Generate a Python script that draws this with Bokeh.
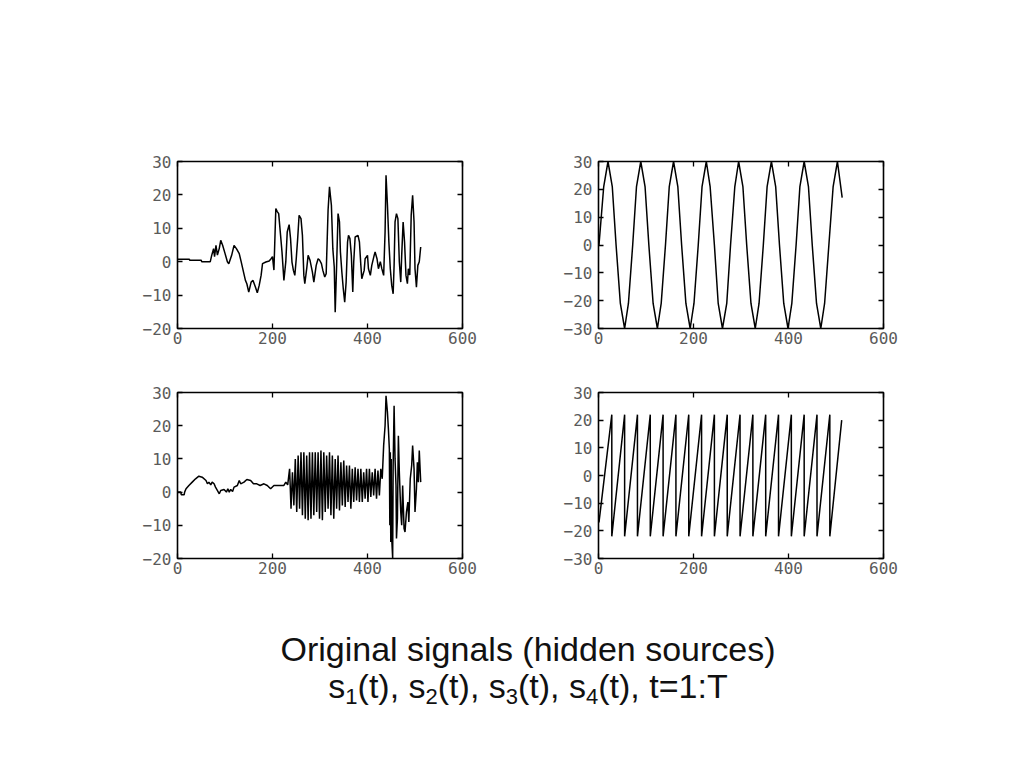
from bokeh.plotting import figure
from bokeh.models import Range1d, FixedTicker, LinearAxis, Spacer, Div
from bokeh.layouts import row, column
from bokeh.embed import file_html
from bokeh.resources import INLINE

# ---------------- data ----------------
x_ticks = [0, 200, 400, 600]

# s1(t): irregular signal (top-left)
s1_t = [1, 25, 26, 50, 51, 69, 72, 76, 78, 81, 84, 88, 91, 95, 100, 105, 108, 114, 119, 124,
        130, 134, 139, 143, 146, 150, 155, 159, 164, 168, 172, 176, 179, 186, 193, 197, 200, 203,
        207, 210, 213, 217, 220, 224, 228, 231, 235, 238, 241, 244, 247, 250, 253, 256, 260, 263,
        266, 268, 272, 275, 279, 284, 287, 292, 296, 299, 303, 306, 310, 313, 317, 320, 324, 327,
        330, 332, 335, 338, 341, 343, 346, 349, 352, 355, 358, 360, 363, 366, 369, 371, 374, 380,
        383, 386, 388, 393, 395, 400, 402, 406, 409, 414, 416, 420, 423, 427, 430, 434, 437, 439,
        442, 445, 448, 451, 454, 456, 458, 461, 464, 467, 470, 472, 475, 478, 481, 484, 486, 489,
        492, 495, 498, 500, 503, 506, 509, 512]
s1_v = [0.7, 0.7, 0.4, 0.4, 0, 0, 1.9, 3.9, 1.5, 4.9, 2.0, 4.0, 6.4, 4.9, 2.5, 0, -0.6, 1.9, 4.9, 3.9,
        2.4, 0, -3.1, -5.6, -6.6, -9.1, -6.1, -5.6, -7.6, -9.3, -7.1, -4.1, -0.6, -0.1, 0.2, 0.9, 1.5, -2.5,
        15.9, 15.0, 14.4, 7.9, 2.9, -5.6, 0, 8.9, 11.1, 6.9, -0.1, -2.6, -4.1, 0.9, 6.9, 13.9, 12.9, 7.9,
        -4.1, -6.6, -2.1, 1.9, 0.4, -3.1, -6.1, -1.1, 0.9, 0.5, -0.6, -2.6, -4.6, -3.6, 15.4, 22.4, 16.9, 3.9,
        -1.6, -15.1, -1.1, 14.4, 11.9, 2.9, -3.1, -8.1, -12.1, -6.1, 5.9, 7.9, 6.9, 1.9, -9.1, -0.1, 7.4, 7.9,
        5.9, -1.1, -5.1, -2.6, 0.9, 1.9, -2.1, -4.1, -1.1, 1.9, 2.9, 0.9, -2.1, 0, -2.0, -4.1, 8.9, 25.9,
        16.9, 5.9, -2.1, -7.1, -9.6, -1.1, 11.9, 14.4, 12.9, 0, -6.1, 1.9, 11.9, 5.9, -4.1, -6.6, -2.1, -4.0,
        13.9, 19.9, 11.9, -2.1, -7.6, -1.1, 0, 4.4]

# s2(t): sinusoid (top-right)
s2_t = [1, 11, 20, 29, 37, 46, 55, 63, 72, 80, 89, 98, 106, 115, 124, 132, 141, 149, 158, 167,
        175, 184, 193, 201, 210, 218, 227, 235, 244, 252, 261, 270, 278, 287, 295, 304, 312, 321,
        330, 338, 347, 355, 364, 373, 381, 390, 399, 407, 416, 424, 433, 442, 450, 459, 468, 476,
        485, 494, 503, 513]
s2_v = [0, 21, 30, 21, 0, -21, -30, -21, 0, 21, 30, 21, 0, -21, -30, -21, 0, 21, 30, 21,
        0, -21, -30, -21, 0, 21, 30, 21, 0, -21, -30, -21, 0, 21, 30, 21, 0, -21,
        -30, -21, 0, 21, 30, 21, 0, -21, -30, -21, 0, 21, 30, 21, 0, -21, -30, -21,
        0, 21, 30, 17]

# s3(t): slow drift then fast oscillation and bursts (bottom-left)
s3_t = [1, 7, 8, 14, 15, 18, 24, 31, 38, 45, 52, 60, 63, 66, 70, 73, 77, 80, 88, 91,
        98, 103, 106, 109, 112, 116, 119, 126, 130, 133, 140, 146, 154, 160, 167, 174, 182, 189, 196, 203,
        214, 224, 228, 232,
        236, 239, 242, 245, 248, 251, 254, 257, 260, 263, 266, 269, 272, 275, 278, 281, 284, 287,
        290, 293, 296, 299, 302, 305, 308, 311, 314, 317, 320, 323, 326, 329, 332, 335, 338, 341,
        344, 347, 350, 353, 356, 359, 362, 365, 368, 371, 374, 377, 380, 383, 386, 389, 392, 395,
        398, 401, 404, 407, 410, 413, 416, 419, 422, 425, 428, 431,
        434, 437, 439, 442, 444, 446, 447, 448, 449, 450, 451, 453, 454, 456, 458, 460, 461, 463,
        465, 467, 470, 472, 474, 477, 479, 482, 485, 487, 490, 493, 495, 498, 500, 503, 505, 507,
        509, 512]
s3_v = [0, 0, -0.8, -0.8, 0, 1, 2, 3, 4, 4.8, 4.5, 3.5, 2.5, 3, 2.2, 3, 2.5, 1.5, -0.5, 0.5,
        0.8, 0, 1, 0, 0.8, 0.2, 1.5, 2, 3.5, 2.5, 3, 3.8, 3.5, 2.5, 2.5, 2, 2.5, 2, 1, 2,
        2, 2, 3, 2.2,
        7, -5, 6, -4, 10, -6, 11, -5, 12, -7, 12, -8, 11, -8.5, 12, -8, 12, -7,
        12, -6, 12, -8, 12.5, -8.5, 12, -6, 11, -5, 12, -7, 11, -8, 10, -5, 11, -5.5,
        9, -4, 9.5, -4.5, 8, -3, 8, -5, 7, -3, 7.5, -2.5, 7, -3, 7, -3, 6, -2,
        7, -3, 7, -1.5, 6, -1, 7, -2, 6.5, -1, 7, 4,
        14, 20, 29, 24, 19, 13, -10, 12, -15, 10, -14, -20, 8, 26, 10, 2, -14, -8,
        17, 6, -6, -10, 2, -11, -12, -6, -3, -9, 4, 8, 14, 7, -6, 1, 9, 3,
        12.5, 3]

# s4(t): sawtooth (bottom-right)
s4_t = [1, 28, 28, 55, 55, 82, 82, 109, 109, 136, 136, 163, 163, 190, 190, 217, 217, 244, 244,
        271, 271, 298, 298, 325, 325, 352, 352, 379, 379, 406, 406, 433, 433, 460, 460, 487, 487, 512]
s4_v = [-17, 22, -22, 22, -22, 22, -22, 22, -22, 22, -22, 22, -22, 22, -22, 22, -22, 22, -22,
        22, -22, 22, -22, 22, -22, 22, -22, 22, -22, 22, -22, 22, -22, 22, -22, 22, -22, 20]

y_ticks_a = [-20, -10, 0, 10, 20, 30]
y_ticks_b = [-30, -20, -10, 0, 10, 20, 30]

# ---------------- styling helpers ----------------
FRAME_W = 285
B_LEFT, B_RIGHT, B_TOP, B_BOTTOM = 60, 22, 10, 30
LABEL_FONT = "DejaVu Sans Mono"
LABEL_COLOR = "#5a5a5a"


def style_axis(ax, show_labels):
    ax.axis_line_color = None
    ax.major_tick_in = 5
    ax.major_tick_out = 0
    ax.major_tick_line_color = "black"
    ax.major_tick_line_width = 1.3
    ax.minor_tick_line_color = None
    ax.major_label_text_font = LABEL_FONT
    ax.major_label_text_font_style = "normal"
    if show_labels:
        ax.major_label_text_color = LABEL_COLOR
        ax.major_label_text_font_size = "16px"
    else:
        ax.major_label_text_color = None
        ax.major_label_text_alpha = 0
        ax.major_label_text_font_size = "1px"
        ax.major_label_standoff = 0


def panel(t, v, ylo, yhi, yticks, frame_h):
    p = figure(width=B_LEFT + FRAME_W + B_RIGHT, height=B_TOP + frame_h + B_BOTTOM,
               x_range=Range1d(0, 600), y_range=Range1d(ylo, yhi),
               output_backend="svg", toolbar_location=None,
               min_border_left=B_LEFT, min_border_right=B_RIGHT,
               min_border_top=B_TOP, min_border_bottom=B_BOTTOM,
               background_fill_color="white", border_fill_color="white")
    p.grid.visible = False
    p.outline_line_color = "black"
    p.outline_line_width = 1.6
    p.xaxis.ticker = FixedTicker(ticks=x_ticks)
    p.yaxis.ticker = FixedTicker(ticks=yticks)
    style_axis(p.xaxis[0], True)
    style_axis(p.yaxis[0], True)
    p.xaxis.major_label_standoff = 3
    p.yaxis.major_label_standoff = 6
    top = LinearAxis(ticker=FixedTicker(ticks=x_ticks))
    right = LinearAxis(ticker=FixedTicker(ticks=yticks))
    style_axis(top, False)
    style_axis(right, False)
    p.add_layout(top, "above")
    p.add_layout(right, "right")
    p.line(t, v, line_color="black", line_width=1.5)
    return p


p1 = panel(s1_t, s1_v, -20, 30, y_ticks_a, 167)
p2 = panel(s2_t, s2_v, -30, 30, y_ticks_b, 167)
p3 = panel(s3_t, s3_v, -20, 30, y_ticks_a, 166)
p4 = panel(s4_t, s4_v, -30, 30, y_ticks_b, 166)

SUB = '<sub style="font-size:22px; line-height:0; vertical-align:-6px;">'
title_html = (
    '<div style="font-family:\'Liberation Sans\', Arial, sans-serif; font-size:34px; '
    'line-height:37px; color:#111; text-align:center; width:1046px;">'
    'Original signals (hidden sources)<br>'
    's' + SUB + '1</sub>(t), '
    's' + SUB + '2</sub>(t), '
    's' + SUB + '3</sub>(t), '
    's' + SUB + '4</sub>(t), t=1:T'
    '</div>'
)
title = Div(text=title_html, width=1000, height=90)

r1 = row(Spacer(width=117, height=10), p1, Spacer(width=54, height=10), p2)
r2 = row(Spacer(width=117, height=10), p3, Spacer(width=54, height=10), p4)
layout = column(Spacer(width=10, height=151), r1, Spacer(width=10, height=24), r2,
                Spacer(width=10, height=38), title)

open("out.html", "w").write(file_html(layout, INLINE))
